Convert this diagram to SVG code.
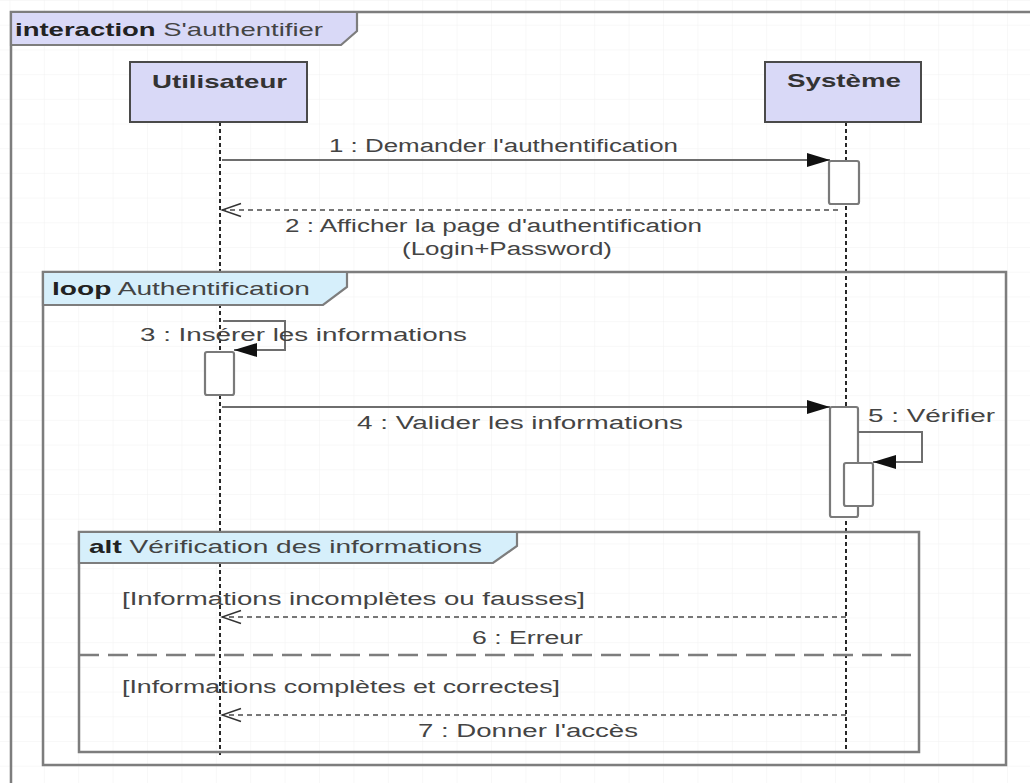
<svg xmlns="http://www.w3.org/2000/svg" width="1030" height="783" viewBox="0 0 1030 783">
  <defs>
    <style>
      .frame { fill: none; stroke: #7d7d7d; stroke-width: 2.5; }
      .tab-int { fill: #d9d9f7; stroke: #7d7d7d; stroke-width: 2.2; }
      .tab-frag { fill: #d6effb; stroke: #7d7d7d; stroke-width: 2.2; }
      .head { fill: #d9d9f7; stroke: #4a4a4a; stroke-width: 2; }
      .lifeline { stroke: #111; stroke-width: 1.8; stroke-dasharray: 4 3; fill: none; }
      .act { fill: #fff; stroke: #7a7a7a; stroke-width: 2.2; }
      .msg { fill: none; stroke: #6e6e6e; stroke-width: 2; }
      .reply { fill: none; stroke: #777; stroke-width: 1.8; stroke-dasharray: 5 4; }
      .sep { fill: none; stroke: #7d7d7d; stroke-width: 2.5; stroke-dasharray: 20 9; }
      text { font-family: "Liberation Sans", Arial, sans-serif; fill: #444; }
      .lbl { font-size: 18px; }
      .title { font-size: 19px; }
      .name { font-size: 19px; font-weight: bold; fill: #333; }
      .kw { font-weight: bold; fill: #222; }
    </style>
    <pattern id="grid" patternUnits="userSpaceOnUse" x="9.4" y="0" width="34.4" height="24.7">
      <path d="M0,0 H34.4 M0,0 V24.7" fill="none" stroke="#f1f1f1" stroke-width="1"/>
    </pattern>
    <marker id="sync" viewBox="-24 -8 25 16" refX="0" refY="0" markerWidth="25" markerHeight="16" markerUnits="userSpaceOnUse" orient="auto">
      <path d="M-23,-7 L0,0 L-23,7 Z" fill="#111"/>
    </marker>
    <marker id="open" viewBox="-21 -8 23 16" refX="0" refY="0" markerWidth="23" markerHeight="16" markerUnits="userSpaceOnUse" orient="auto">
      <path d="M-19,-6.5 L0,0 L-19,6.5" fill="none" stroke="#333" stroke-width="1.5"/>
    </marker>
  </defs>

  <!-- background and faint grid -->
  <rect width="1030" height="783" fill="#fff"/>
  <rect width="1030" height="783" fill="url(#grid)"/>

  <!-- interaction frame -->
  <g id="frame-interaction">
    <rect class="frame" x="11" y="12" width="1040" height="800"/>
    <path class="tab-int" d="M11,12 H357 V31 L341,45 H11 Z"/>
    <text class="title" x="15" y="36" textLength="308" lengthAdjust="spacingAndGlyphs"><tspan class="kw">interaction</tspan> S'authentifier</text>
  </g>

  <!-- lifelines -->
  <g id="lifeline-utilisateur">
    <line class="lifeline" x1="220" y1="122" x2="220" y2="755"/>
    <rect class="head" x="130" y="62" width="177" height="60"/>
    <text class="name" x="152" y="88" textLength="135" lengthAdjust="spacingAndGlyphs">Utilisateur</text>
  </g>
  <g id="lifeline-systeme">
    <line class="lifeline" x1="846" y1="122" x2="846" y2="750"/>
    <rect class="head" x="765" y="62" width="156" height="60"/>
    <text class="name" x="787" y="87" textLength="114" lengthAdjust="spacingAndGlyphs">Système</text>
  </g>

  <!-- loop fragment -->
  <g id="frame-loop">
    <rect class="frame" x="43" y="272" width="963" height="493"/>
    <path class="tab-frag" d="M43,272 H347 V287 L323,305 H43 Z"/>
    <text class="title" x="52" y="295" textLength="258" lengthAdjust="spacingAndGlyphs"><tspan class="kw">loop</tspan> Authentification</text>
  </g>

  <!-- alt fragment -->
  <g id="frame-alt">
    <rect class="frame" x="79" y="532" width="840" height="220"/>
    <path class="tab-frag" d="M79,532 H517 V546 L493,563 H79 Z"/>
    <text class="title" x="89" y="553" textLength="393" lengthAdjust="spacingAndGlyphs"><tspan class="kw">alt</tspan> Vérification des informations</text>
    <line class="sep" x1="79" y1="655" x2="919" y2="655"/>
    <text class="lbl" x="122" y="605" textLength="463" lengthAdjust="spacingAndGlyphs">[Informations incomplètes ou fausses]</text>
    <text class="lbl" x="122" y="693" textLength="438" lengthAdjust="spacingAndGlyphs">[Informations complètes et correctes]</text>
  </g>

  <!-- activation bars -->
  <g id="activations">
    <rect class="act" x="829" y="161" width="30" height="43" rx="2"/>
    <rect class="act" x="205" y="352" width="29" height="43" rx="2"/>
    <rect class="act" x="830" y="407" width="28" height="110" rx="2"/>
    <rect class="act" x="844" y="463" width="29" height="43" rx="2"/>
  </g>

  <!-- messages -->
  <g id="connectors">
    <g id="msg-1">
      <line class="msg" x1="222" y1="160" x2="830" y2="160" marker-end="url(#sync)"/>
      <text class="lbl" x="329" y="152" textLength="349" lengthAdjust="spacingAndGlyphs">1 : Demander l'authentification</text>
    </g>
    <g id="msg-2">
      <line class="reply" x1="838" y1="210" x2="222" y2="210" marker-end="url(#open)"/>
      <text class="lbl" x="285" y="232" textLength="417" lengthAdjust="spacingAndGlyphs">2 : Afficher la page d'authentification</text>
      <text class="lbl" x="402" y="255" textLength="210" lengthAdjust="spacingAndGlyphs">(Login+Password)</text>
    </g>
    <g id="msg-3">
      <path class="msg" d="M223,321 H285 V350 H234" marker-end="url(#sync)"/>
      <text class="lbl" x="140" y="341" textLength="327" lengthAdjust="spacingAndGlyphs">3 : Insérer les informations</text>
    </g>
    <g id="msg-4">
      <line class="msg" x1="222" y1="407" x2="830" y2="407" marker-end="url(#sync)"/>
      <text class="lbl" x="357" y="429" textLength="326" lengthAdjust="spacingAndGlyphs">4 : Valider les informations</text>
    </g>
    <g id="msg-5">
      <path class="msg" d="M858,432 H922 V462 H873" marker-end="url(#sync)"/>
      <text class="lbl" x="868" y="422" textLength="127" lengthAdjust="spacingAndGlyphs">5 : Vérifier</text>
    </g>
    <g id="msg-6">
      <line class="reply" x1="846" y1="617" x2="222" y2="617" marker-end="url(#open)"/>
      <text class="lbl" x="472" y="644" textLength="111" lengthAdjust="spacingAndGlyphs">6 : Erreur</text>
    </g>
    <g id="msg-7">
      <line class="reply" x1="846" y1="715" x2="222" y2="715" marker-end="url(#open)"/>
      <text class="lbl" x="418" y="737" textLength="220" lengthAdjust="spacingAndGlyphs">7 : Donner l'accès</text>
    </g>
  </g>
</svg>
